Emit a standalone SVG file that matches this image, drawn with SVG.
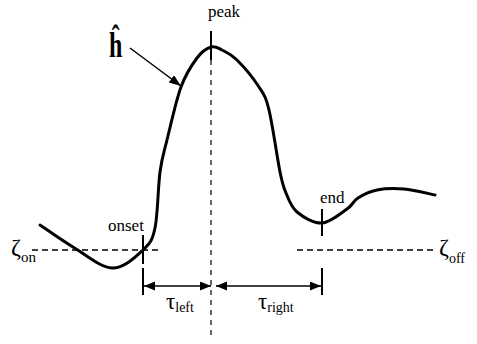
<svg xmlns="http://www.w3.org/2000/svg" width="477" height="344" viewBox="0 0 477 344">
<style>
.t{font-family:"Liberation Serif","Times New Roman",serif;fill:#000}
.curve{fill:none;stroke:#000;stroke-width:3;stroke-linejoin:round;stroke-linecap:round}
.tick{stroke:#000;stroke-width:2}
.dash{stroke:#000;stroke-width:1.5;stroke-dasharray:6,4}
.vdash{stroke:#000;stroke-width:1.2;stroke-dasharray:5,5}
.arr{stroke:#000;stroke-width:1.5;fill:none}
</style>
<defs>
<marker id="ah" markerUnits="userSpaceOnUse" markerWidth="12" markerHeight="10" refX="11" refY="4.5" orient="auto-start-reverse">
<path d="M0,0 L11,4.5 L0,9 Z" fill="#000"/>
</marker>
<marker id="ah2" markerUnits="userSpaceOnUse" markerWidth="13" markerHeight="10" refX="12" refY="4.5" orient="auto">
<path d="M0,0 L12,4.5 L0,9 Z" fill="#000"/>
</marker>
</defs>
<g id="curve">
<path class="curve" d="M40,225 C45.5,228.7 61,239.8 73,247 C85,254.2 100.3,267.5 112,268 C123.7,268.5 135.8,256.7 143,250 C150.2,243.3 152.2,241 155,228 C157.8,215 158,186.7 160,172 C162,157.3 163.5,154.2 167,140 C170.5,125.8 176,100.7 181,87 C186,73.3 192,64.7 197,58 C202,51.3 206.8,48.3 211,47 C215.2,45.7 217.7,47.8 222,50 C226.3,52.2 230.8,53.8 237,60 C243.2,66.2 253.7,78.7 259,87 C264.3,95.3 265.5,95.8 269,110 C272.5,124.2 277.2,158.2 280,172 C282.8,185.8 283.2,186.3 286,193 C288.8,199.7 291,207 297,212 C303,217 313.7,223.5 322,223 C330.3,222.5 341,213.2 347,209 C353,204.8 353,201.2 358,198 C363,194.8 369.3,191.5 377,190 C384.7,188.5 394.3,188.2 404,189 C413.7,189.8 429.8,194 435,195"/>
</g>
<g id="reference-lines">
<line class="dash" x1="32" y1="250" x2="160" y2="250"/>
<line class="dash" x1="297" y1="250" x2="434" y2="250"/>
<line class="vdash" x1="211" y1="60" x2="211" y2="338"/>
</g>
<g id="peak">
<line class="tick" x1="211" y1="31" x2="211" y2="60"/>
<text class="t" x="208" y="17" font-size="17">peak</text>
</g>
<g id="onset">
<line class="tick" x1="143" y1="235" x2="143" y2="264"/>
<text class="t" x="108" y="231" font-size="17">onset</text>
</g>
<g id="end">
<line class="tick" x1="322" y1="209" x2="322" y2="236"/>
<text class="t" x="320" y="203" font-size="17">end</text>
</g>
<g id="h-label">
<text class="t" x="0" y="0" font-size="24" font-weight="bold" transform="translate(109,57) scale(1,1.5)">ĥ</text>
</g>
<g id="zeta-on">
<text class="t" x="11" y="255" font-size="24">ζ<tspan font-size="15" dy="7">on</tspan></text>
</g>
<g id="zeta-off">
<text class="t" x="439" y="255" font-size="24">ζ<tspan font-size="14" dy="8">off</tspan></text>
</g>
<g id="tau-left">
<line class="tick" x1="143" y1="268" x2="143" y2="295"/>
<text class="t" x="166" y="309" font-size="23">τ<tspan font-size="14" dy="3">left</tspan></text>
</g>
<g id="tau-right">
<line class="tick" x1="322" y1="268" x2="322" y2="295"/>
<text class="t" x="258" y="309" font-size="23">τ<tspan font-size="14" dy="3">right</tspan></text>
</g>
<g id="connectors">
<line class="arr" x1="130" y1="48" x2="181" y2="86" marker-end="url(#ah2)"/>
<line class="arr" x1="144" y1="286" x2="211" y2="286" marker-start="url(#ah)" marker-end="url(#ah)"/>
<line class="arr" x1="216" y1="286" x2="321" y2="286" marker-start="url(#ah)" marker-end="url(#ah)"/>
</g>
</svg>
